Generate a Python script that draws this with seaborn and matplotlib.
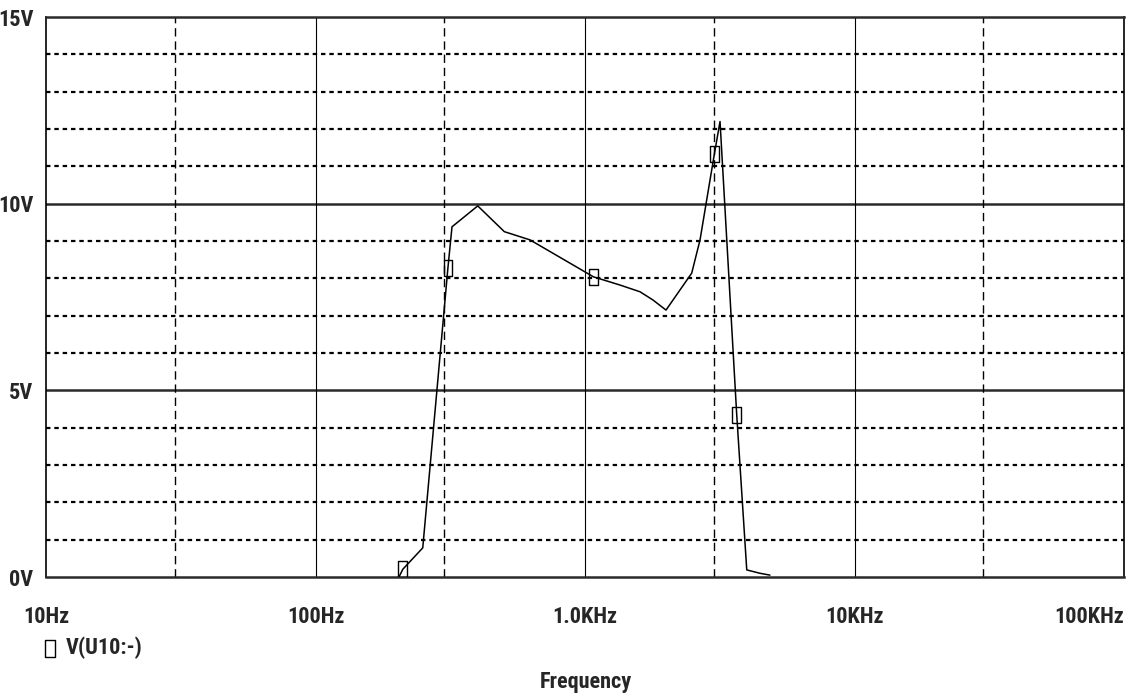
import matplotlib
matplotlib.use("Agg")
import matplotlib.pyplot as plt
from matplotlib import font_manager
import seaborn as sns
import pandas as pd

# Frequency response of V(U10:-)
freq_hz = [204, 211, 250, 310, 321, 400, 502, 625, 1075, 1349, 1600, 1787,
           1998, 2489, 2672, 3020, 3170, 3656, 3983, 4456, 4856]
volts = [0.0, 0.21, 0.78, 8.28, 9.38, 9.94, 9.25, 9.03, 8.04, 7.82, 7.64, 7.42,
         7.15, 8.14, 9.03, 11.33, 12.2, 4.34, 0.19, 0.10, 0.05]
marker_idx = [1, 3, 8, 15, 17]

x_ticks = [10, 100, 1000, 10000, 100000]
x_labels = ["10Hz", "100Hz", "1.0KHz", "10KHz", "100KHz"]
y_ticks = [0, 5, 10, 15]
y_labels = ["0V", "5V", "10V", "15V"]
series_name = "V(U10:-)"
x_title = "Frequency"

sns.set_style("white")
available = {f.name for f in font_manager.fontManager.ttflist}
family = next((f for f in ["Liberation Sans Narrow", "Roboto Condensed",
                           "DejaVu Sans Condensed", "DejaVu Sans"]
               if f in available), "DejaVu Sans")
plt.rcParams["font.family"] = [family, "DejaVu Sans"]
plt.rcParams["lines.scale_dashes"] = False

df = pd.DataFrame({"freq": freq_hz, "v": volts})
marks = df.iloc[marker_idx]

fig = plt.figure(figsize=(11.32, 7.0), dpi=100)
ax = fig.add_axes([46 / 1132, 1 - 577 / 700, (1124 - 46) / 1132, (577 - 17) / 700])
ax.set_xscale("log")
ax.set_xlim(10, 100000)
ax.set_ylim(0, 15)

# grid: solid major lines, dashed minor lines
for v in range(1, 15):
    if v % 5 == 0:
        ax.axhline(v, color="#2a2a2a", lw=1.8, zorder=1)
    else:
        ax.axhline(v, color="black", lw=1.6, ls=(0, (3.2, 2.8)), zorder=1)
for f in [100, 1000, 10000]:
    ax.axvline(f, color="black", lw=0.8, zorder=1)
for f in [30, 300, 3000, 30000]:
    ax.axvline(f, color="black", lw=1.0, ls=(0, (6.0, 3.5)), zorder=1)

sns.lineplot(data=df, x="freq", y="v", ax=ax, color="black", lw=1.1,
             estimator=None, sort=False, zorder=3)
rect = [(-0.5, -0.9), (0.5, -0.9), (0.5, 0.9), (-0.5, 0.9), (-0.5, -0.9)]
sns.scatterplot(data=marks, x="freq", y="v", ax=ax, marker=rect, s=130,
                facecolor="none", edgecolor="black", linewidth=1.0, zorder=4,
                label=series_name)

for side in ["top", "bottom"]:
    ax.spines[side].set_linewidth(1.8)
    ax.spines[side].set_color("#2a2a2a")
for side in ["left", "right"]:
    ax.spines[side].set_linewidth(1.2)
    ax.spines[side].set_color("black")

ax.set_xticks(x_ticks)
ax.set_xticklabels(x_labels)
ax.minorticks_off()
ax.set_yticks(y_ticks)
ax.set_yticklabels(y_labels)
ax.tick_params(axis="x", direction="out", length=9, width=1.0, pad=12,
               labelsize=16)
ax.tick_params(axis="y", direction="out", length=6, width=1.0, pad=3,
               labelsize=16)
for lab in ax.get_xticklabels() + ax.get_yticklabels():
    lab.set_fontweight("bold")
ax.get_xticklabels()[-1].set_horizontalalignment("right")

ax.set_xlabel("")
ax.set_ylabel("")
fig.text(586 / 1132, 1 - 688 / 700, x_title, ha="center", va="baseline",
         fontsize=16, fontweight="bold")

leg = ax.legend(loc="upper left", bbox_to_anchor=(30 / 1132, 1 - 628 / 700),
                bbox_transform=fig.transFigure, frameon=False, fontsize=16,
                handletextpad=0.2, handlelength=1.0, borderaxespad=0,
                markerscale=1.1)
for t in leg.get_texts():
    t.set_fontweight("bold")

fig.savefig("out.png", dpi=100)
